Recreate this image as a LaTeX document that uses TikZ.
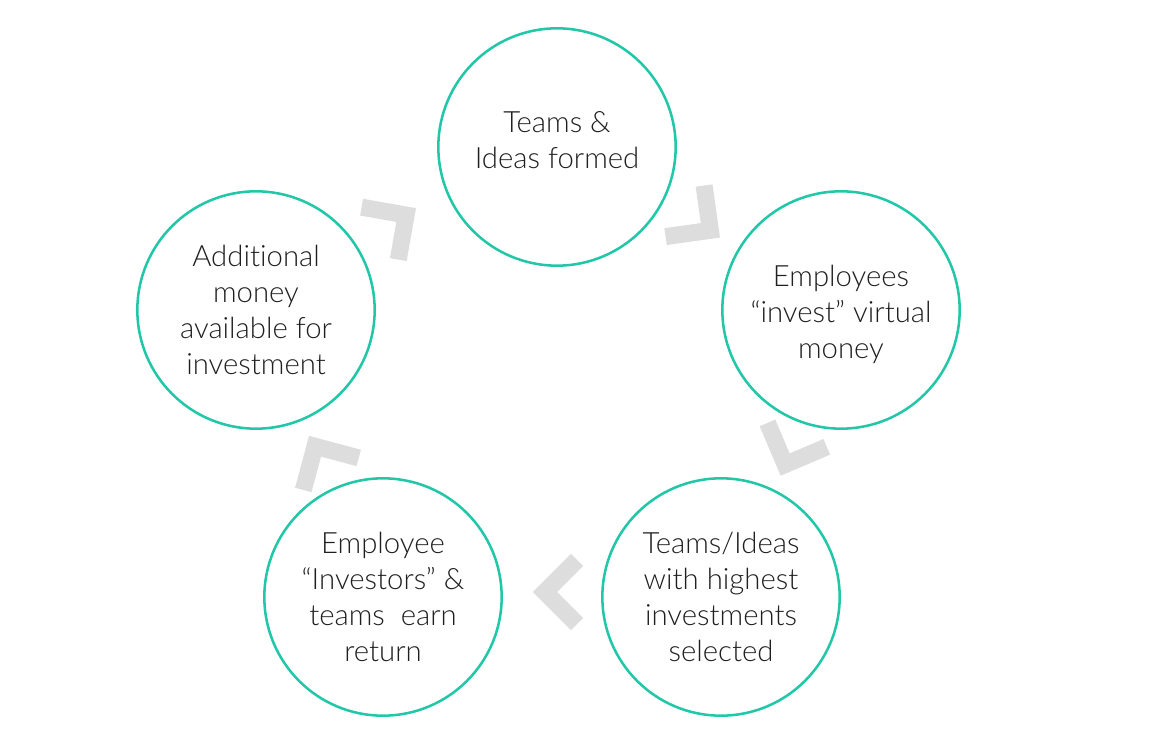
\documentclass[tikz,border=0pt]{standalone}
\usepackage{fontspec}
\setmainfont{Lato}[UprightFont=* Light, Ligatures=NoCommon]
\definecolor{ringteal}{RGB}{34, 199, 168}
\definecolor{chevgray}{RGB}{221, 221, 221}
\usetikzlibrary{calc}
\tikzset{
    stage/.style={circle, draw=ringteal, line width=1.9pt, inner sep=0pt,
        minimum size=178pt, align=center, text=black!88,
        font=\fontsize{22}{27}\selectfont},
    chevron/.pic={
        \draw[chevgray, line width=12.75pt, line join=miter]
            (-19, 32) -- (13, 0) -- (-19, -32);
    },
}
\begin{document}
\begin{tikzpicture}[x=0.75pt, y=0.75pt]
        \useasboundingbox (0, 0) rectangle (1170, 740);
        \node[stage] (c1) at (557, 593) {Teams \&\\Ideas formed\\[-16.5pt]};
        \node[stage] (c2) at (841, 430) {\\[-4pt]Employees\\“invest” virtual\\money};
        \node[stage] (c3) at (721, 143) {Teams/Ideas\\with highest\\investments\\selected};
        \node[stage] (c4) at (383, 143) {Employee\\“Investors” \&\\teams~ earn\\return};
        \node[stage] (c5) at (256, 430) {Additional\\money\\available for\\investment};
        \pic[rotate=35] at ($(c5)!.5!(c1)+(-11, 6)$) {chevron};
        \pic[rotate=-37] at ($(c1)!.5!(c2)+(1, 6)$) {chevron};
        \pic[rotate=-112] at ($(c2)!.5!(c3)+(9, 1)$) {chevron};
        \pic[rotate=180] at ($(c3)!.5!(c4)+(6, 5)$) {chevron};
        \pic[rotate=120] at ($(c4)!.5!(c5)+(2, -4)$) {chevron};
    \end{tikzpicture}
\end{document}
